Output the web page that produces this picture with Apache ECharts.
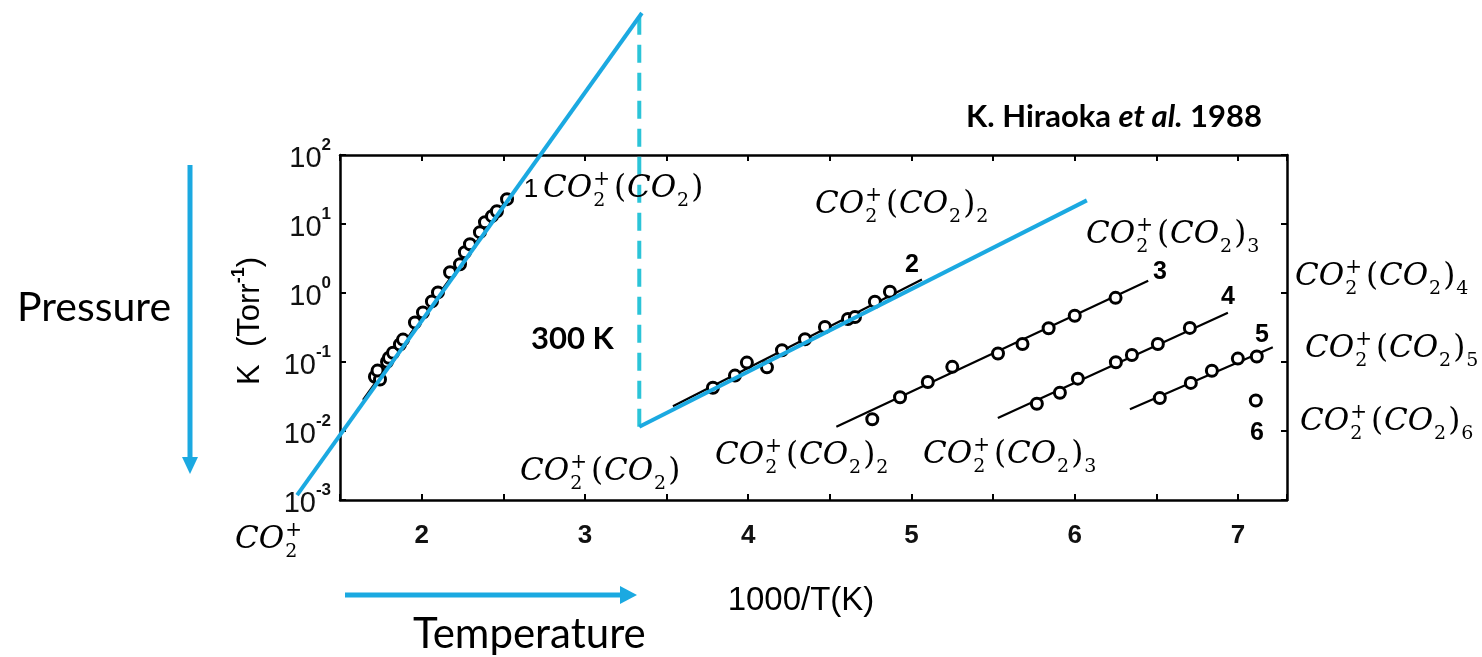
<!DOCTYPE html>
<html><head><meta charset="utf-8">
<script src="https://cdn.jsdelivr.net/npm/echarts@6/dist/echarts.min.js"></script>
<style>html,body{margin:0;padding:0;background:#fff}#c{width:1482px;height:657px}</style>
</head><body><div id="c"></div>
<script>
// ---- data ----
const xTickLabels = ['2', '3', '4', '5', '6', '7'];
const yTickExponents = ['2', '1', '0', '-1', '-2', '-3']; // 10^2 ... 10^-3

const s1x = [1.714, 1.745, 1.73, 1.788, 1.80, 1.825, 1.867, 1.886, 1.959, 2.008, 2.063, 2.100, 2.174, 2.235, 2.265, 2.296, 2.357, 2.388, 2.431, 2.461, 2.523];
const s1K = [0.0611, 0.0557, 0.075, 0.101, 0.115, 0.136, 0.179, 0.211, 0.373, 0.521, 0.755, 1.02, 2.0, 2.61, 3.90, 5.09, 7.62, 10.6, 13.0, 15.3, 22.9];
const f1x = [1.641, 2.541];
const f1K = [0.0282, 26.3];

const s2x = [3.784, 3.919, 3.992, 4.115, 4.207, 4.348, 4.47, 4.611, 4.654, 4.776, 4.868];
const s2K = [0.0423, 0.0635, 0.098, 0.0836, 0.148, 0.214, 0.321, 0.420, 0.449, 0.745, 1.045];
const f2x = [3.539, 5.064];
const f2K = [0.0229, 1.57];

const s3x = [4.76, 4.93, 5.10, 5.25, 5.53, 5.68, 5.84, 6.00, 6.25];
const s3K = [0.0148, 0.0309, 0.0513, 0.0851, 0.133, 0.182, 0.309, 0.468, 0.851];
const f3x = [4.54, 6.45];
const f3K = [0.0115, 1.51];

const s4x = [5.768, 5.909, 6.019, 6.252, 6.35, 6.509, 6.705];
const s4K = [0.0248, 0.0359, 0.0574, 0.0991, 0.126, 0.182, 0.312];
const f4x = [5.529, 6.938];
const f4K = [0.0154, 0.518];

const s5x = [6.521, 6.711, 6.84, 6.999, 7.115];
const s5K = [0.030, 0.0498, 0.0745, 0.112, 0.120];
const f5x = [6.338, 7.213];
const f5K = [0.0206, 0.163];

const s6x = [7.109];
const s6K = [0.0277];

// overlay guide lines (annotation)
const guideX = [1.237, 3.349];
const guideK = [0.00118, 11430];
const dashX = [3.333, 3.333];
const dashK = [0.0115, 11430];
const vX = [3.333, 6.074];
const vK = [0.0115, 22];

// ---- layout ----
const W = 1482, H = 657;
const G = { left: 340, right: 195, top: 155, bottom: 157 };
const XMIN = 1.5, XMAX = 7.3, YMINE = -3, YMAXE = 2;
// full-canvas twin grid with the same data-to-pixel mapping (for guide lines that leave the frame)
const ppx = (W - G.left - G.right) / (XMAX - XMIN);
const ppd = (H - G.top - G.bottom) / (YMAXE - YMINE);
const X2MIN = XMIN - G.left / ppx, X2MAX = XMAX + G.right / ppx;
const Y2MAXE = YMAXE + G.top / ppd, Y2MINE = YMINE - G.bottom / ppd;

// ---- helpers ----
const zip = (xs, ys) => xs.map((x, i) => [x, ys[i]]);
const ctx = document.createElement('canvas').getContext('2d');
function tw(font, t) { ctx.font = font; return ctx.measureText(t).width; }

const FAM = '"DejaVu Serif"';
function formula(x0, Y, n, short) {
  const FM = 'italic 31px ' + FAM, FU = '31px ' + FAM, FS = '19px ' + FAM, FP = '20px ' + FAM;
  const els = []; let cx = x0;
  const add = (t, font, y) => {
    els.push({ type: 'text', x: cx, y: y, z: 100,
      style: { text: t, font: font, fill: '#000', align: 'left', verticalAlign: 'middle' } });
    return tw(font, t);
  };
  cx += add('CO', FM, Y) + 1;
  const wp = add('+', FP, Y - 9);
  const w2 = add('2', FS, Y + 12);
  cx += Math.max(wp, w2) + 4;
  if (short) return els;
  cx += add('(', FU, Y) + 1;
  cx += add('CO', FM, Y) + 1;
  cx += add('2', FS, Y + 12) + 2;
  cx += add(')', FU, Y) + 1;
  if (n) add(n, FS, Y + 12);
  return els;
}

const BLUE = '#1ba9e1';
const CYAN = '#2bc4d8';

let graphics = [];
graphics = graphics.concat(
  formula(543, 189, ''),
  formula(815, 205, '2'),
  formula(1086, 235, '3'),
  formula(1295, 277, '4'),
  formula(1305, 349, '5'),
  formula(1300, 422, '6'),
  formula(520, 472, ''),
  formula(715, 456, '2'),
  formula(923, 455, '3'),
  formula(235, 540, '', true)
);
const scanFont = '"Liberation Sans"';
const plainText = (t, x, y, font, align, extra) => Object.assign({ type: 'text', x: x, y: y, z: 100,
  style: { text: t, font: font, fill: '#000', align: align || 'center', verticalAlign: 'middle' } }, extra || {});
graphics.push(plainText('1', 531, 190, '26px ' + scanFont));
graphics.push(plainText('2', 912, 265, 'bold 25px ' + scanFont));
graphics.push(plainText('3', 1160, 272, 'bold 25px ' + scanFont));
graphics.push(plainText('4', 1228, 297, 'bold 25px ' + scanFont));
graphics.push(plainText('5', 1262, 335, 'bold 25px ' + scanFont));
graphics.push(plainText('6', 1257, 433, 'bold 25px ' + scanFont));
graphics.push(plainText('300 K', 531, 339, 'bold 31px Lato', 'left'));
graphics.push(plainText('Pressure', 17, 308, '41px Lato', 'left'));
graphics.push(plainText('Temperature', 413, 634, '42px Lato', 'left'));
graphics.push(plainText('1000/T(K)', 801, 601, '33px ' + scanFont, 'center'));
graphics.push({ type: 'text', x: 1262, y: 117, z: 100,
  style: { text: '{b|K. Hiraoka }{i|et al.}{b| 1988}', align: 'right', verticalAlign: 'middle',
    rich: { b: { font: 'bold 31px Lato', fill: '#000' }, i: { font: 'italic bold 31px Lato', fill: '#000' } } } });
graphics.push({ type: 'text', x: 248, y: 321, rotation: Math.PI / 2, z: 100,
  style: { text: '{a|K  (Torr}{s|-1}{a|)}', align: 'center', verticalAlign: 'middle',
    rich: { a: { font: '31px ' + scanFont, fill: '#000', lineHeight: 36, verticalAlign: 'bottom' },
            s: { font: 'bold 18px ' + scanFont, fill: '#000', lineHeight: 36, verticalAlign: 'top' } } } });
// arrows
graphics.push({ type: 'line', z: 90, shape: { x1: 190, y1: 165, x2: 190, y2: 460 }, style: { stroke: BLUE, lineWidth: 5 } });
graphics.push({ type: 'polygon', z: 90, shape: { points: [[182, 457], [198, 457], [190, 474]] }, style: { fill: BLUE } });
graphics.push({ type: 'line', z: 90, shape: { x1: 345, y1: 595, x2: 622, y2: 595 }, style: { stroke: BLUE, lineWidth: 5 } });
graphics.push({ type: 'polygon', z: 90, shape: { points: [[620, 586], [620, 604], [637, 595]] }, style: { fill: BLUE } });

const axisLineStyle = { color: '#000', width: 2.5 };
const tickStyle = { color: '#000', width: 2 };

const scatter = (xs, ys) => ({
  type: 'scatter', data: zip(xs, ys), symbol: 'circle', symbolSize: 11, z: 5,
  itemStyle: { color: '#fff', borderColor: '#000', borderWidth: 3, opacity: 1 }
});
const fit = (xs, ys) => ({
  type: 'line', data: zip(xs, ys), symbol: 'none', z: 4,
  lineStyle: { color: '#000', width: 2.2 }
});
const guide = (xs, ys, color, type, z) => ({
  type: 'line', data: zip(xs, ys), symbol: 'none', clip: false, z: z,
  xAxisIndex: 2, yAxisIndex: 2,
  lineStyle: { color: color, width: 4, type: type || 'solid' }
});

const option = {
  animation: false,
  backgroundColor: '#fff',
  grid: [
    { left: G.left, right: G.right, top: G.top, bottom: G.bottom, containLabel: false },
    { left: 0, right: 0, top: 0, bottom: 0, containLabel: false }
  ],
  xAxis: [{
    type: 'value', min: XMIN, max: XMAX, interval: 0.5, position: 'bottom', gridIndex: 0,
    axisLine: { show: true, onZero: false, lineStyle: axisLineStyle },
    axisTick: { show: true, inside: true, length: 6, lineStyle: tickStyle },
    axisLabel: {
      margin: 23, color: '#111', fontSize: 26, fontWeight: 'bold', fontFamily: 'Liberation Sans',
      formatter: v => {
        const r = Math.round(v);
        return (Math.abs(v - r) < 1e-6 && xTickLabels.indexOf(String(r)) >= 0) ? String(r) : '';
      }
    },
    splitLine: { show: false }
  }, {
    type: 'value', min: XMIN, max: XMAX, interval: 0.5, position: 'top', gridIndex: 0,
    axisLine: { show: true, onZero: false, lineStyle: axisLineStyle },
    axisTick: { show: true, inside: true, length: 6, lineStyle: tickStyle },
    axisLabel: { show: false }, splitLine: { show: false }
  }, {
    type: 'value', min: X2MIN, max: X2MAX, gridIndex: 1, show: false
  }],
  yAxis: [{
    type: 'log', logBase: 10, min: Math.pow(10, YMINE), max: Math.pow(10, YMAXE), position: 'left', gridIndex: 0,
    axisLine: { show: true, onZero: false, lineStyle: axisLineStyle },
    axisTick: { show: true, inside: true, length: 6, lineStyle: tickStyle },
    axisLabel: {
      margin: 9, align: 'right',
      formatter: v => {
        const e = Math.round(Math.log10(v));
        return '{b|10}{s|' + yTickExponents[2 - e] + '}';
      },
      rich: {
        b: { fontSize: 29, fontFamily: 'Liberation Sans', color: '#111', lineHeight: 36, verticalAlign: 'bottom' },
        s: { fontSize: 17, fontWeight: 'bold', fontFamily: 'Liberation Sans', color: '#111', lineHeight: 36, verticalAlign: 'top' }
      }
    },
    splitLine: { show: false }
  }, {
    type: 'log', logBase: 10, min: Math.pow(10, YMINE), max: Math.pow(10, YMAXE), position: 'right', gridIndex: 0,
    axisLine: { show: true, onZero: false, lineStyle: axisLineStyle },
    axisTick: { show: true, inside: true, length: 6, lineStyle: tickStyle },
    axisLabel: { show: false }, splitLine: { show: false }
  }, {
    type: 'log', logBase: 10, min: Math.pow(10, Y2MINE), max: Math.pow(10, Y2MAXE), gridIndex: 1, show: false
  }],
  series: [
    fit(f1x, f1K), scatter(s1x, s1K),
    fit(f2x, f2K), scatter(s2x, s2K),
    fit(f3x, f3K), scatter(s3x, s3K),
    fit(f4x, f4K), scatter(s4x, s4K),
    fit(f5x, f5K), scatter(s5x, s5K),
    scatter(s6x, s6K),
    guide(guideX, guideK, BLUE, 'solid', 20),
    guide(vX, vK, BLUE, 'solid', 20),
    guide(dashX, dashK, CYAN, [18, 10], 19)
  ],
  graphic: graphics
};
const chart = echarts.init(document.getElementById('c'), null, { renderer: 'canvas' });
chart.setOption(option);
</script>
</body></html>
